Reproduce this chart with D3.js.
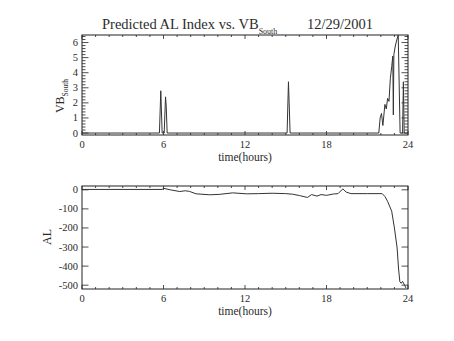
<!DOCTYPE html>
<html>
<head>
<meta charset="utf-8">
<script src="https://cdn.jsdelivr.net/npm/d3@7"></script>
<style>
  body { margin: 0; background: #fff; }
  svg { display: block; }
  text, tspan { font-family: "Liberation Serif", "DejaVu Serif", serif; fill: #2a2a2a; }
</style>
</head>
<body>
<svg id="chart" width="454" height="341"></svg>
<script>
// Southward IMF component (VB_South), hours UT
const vbHours  = [0, 5.70, 5.80, 5.90, 6.05, 6.15, 6.20, 6.27, 15.10, 15.20, 15.25, 15.32,
                  21.85, 21.95, 22.05, 22.15, 22.30, 22.40, 22.50, 22.60, 22.70, 22.80, 22.88,
                  22.92, 22.96, 23.05, 23.15, 23.28, 23.42, 23.60, 23.66, 23.72, 24];
const vbValues = [0, 0, 2.8, 0, 0, 2.4, 1.8, 0, 0, 3.4, 2.0, 0,
                  0, 1.0, 1.3, 0.5, 1.9, 1.6, 2.3, 2.1, 3.6, 4.4, 5.1,
                  1.2, 5.2, 5.7, 6.1, 6.5, 0, 0, 3.4, 0, 0];

// Predicted AL index (nT), hours UT
const alHours  = [0, 5.9, 6.0, 6.5, 7.2, 7.6, 7.9, 8.4, 9.4, 10.1, 11.1, 12.1, 13.0, 14.0, 15.0,
                  15.5, 16.0, 16.6, 16.9, 17.3, 17.6, 18.0, 18.5, 18.85, 19.2, 19.45, 19.8,
                  21.0, 22.1, 22.3, 22.5, 22.8, 23.0, 23.2, 23.3, 23.4, 23.5, 23.6, 23.75, 23.85];
const alValues = [2, 2, 8, 0, -9, -5, -8, -21, -26, -24, -16, -21, -20, -18, -20,
                  -23, -30, -40, -25, -33, -25, -29, -22, -20, 5, -12, -20,
                  -20, -20, -35, -61, -112, -200, -305, -410, -482, -490, -480, -500, -515];

const xTicks  = [0, 6, 12, 18, 24];
const vbTicks = [0, 1, 2, 3, 4, 5, 6];
const alTicks = [0, -100, -200, -300, -400, -500];

const svg = d3.select("#chart");
const ink = "#222";

const x = d3.scaleLinear().domain([0, 24]).range([82, 408]);
const yVB = d3.scaleLinear().domain([-0.13, 6.5]).range([135, 35]);
const yAL = d3.scaleLinear().domain([-520, 20]).range([289, 186]);

// values of the minor ticks lying between (and around) the major ticks
function minorValues(major, n, domain) {
  const step = major[1] - major[0];
  const lo = Math.min(domain[0], domain[1]), hi = Math.max(domain[0], domain[1]);
  const out = [];
  const start = Math.floor((lo - major[0]) / step) - 1;
  const end = Math.ceil((hi - major[0]) / step) + 1;
  for (let k = start; k <= end; k++) {
    for (let j = 1; j < n; j++) {
      const v = major[0] + (k + j / n) * step;
      if (v > lo && v < hi) out.push(v);
    }
  }
  return out;
}

function panel(y, yTicks, yMinorN, hours, values) {
  const g = svg.append("g");
  const [x0, x1] = x.range();
  const [yb, yt] = y.range();

  // frame
  g.append("rect").attr("x", x0).attr("y", yt).attr("width", x1 - x0).attr("height", yb - yt)
    .attr("fill", "none").attr("stroke", ink).attr("stroke-width", 1);

  // x ticks (bottom + top, pointing inward)
  const xMinor = minorValues(xTicks, 6, x.domain());
  const ticks = g.append("g").attr("stroke", ink).attr("stroke-width", 0.8);
  xTicks.forEach(v => {
    ticks.append("line").attr("x1", x(v)).attr("x2", x(v)).attr("y1", yb).attr("y2", yb - 4);
    ticks.append("line").attr("x1", x(v)).attr("x2", x(v)).attr("y1", yt).attr("y2", yt + 4);
  });
  xMinor.forEach(v => {
    ticks.append("line").attr("x1", x(v)).attr("x2", x(v)).attr("y1", yb).attr("y2", yb - 2);
    ticks.append("line").attr("x1", x(v)).attr("x2", x(v)).attr("y1", yt).attr("y2", yt + 2);
  });
  // y ticks (left + right, pointing inward)
  const yMinor = minorValues(yTicks, yMinorN, y.domain());
  yTicks.forEach(v => {
    ticks.append("line").attr("x1", x0).attr("x2", x0 + 6.5).attr("y1", y(v)).attr("y2", y(v));
    ticks.append("line").attr("x1", x1).attr("x2", x1 - 6.5).attr("y1", y(v)).attr("y2", y(v));
  });
  yMinor.forEach(v => {
    ticks.append("line").attr("x1", x0).attr("x2", x0 + 3.5).attr("y1", y(v)).attr("y2", y(v));
    ticks.append("line").attr("x1", x1).attr("x2", x1 - 3.5).attr("y1", y(v)).attr("y2", y(v));
  });

  // tick labels
  xTicks.forEach(v => {
    g.append("text").attr("x", x(v)).attr("y", yb + 13).attr("text-anchor", "middle")
      .attr("font-size", 10.5).text(v);
  });
  yTicks.forEach(v => {
    g.append("text").attr("x", x0 - 4).attr("y", y(v) + 3.5).attr("text-anchor", "end")
      .attr("font-size", 10.5).text(v);
  });
  g.append("text").attr("x", (x0 + x1) / 2).attr("y", yb + 26).attr("text-anchor", "middle")
    .attr("font-size", 11.5).text("time(hours)");

  // data line
  const line = d3.line().x((d, i) => x(hours[i])).y(d => y(d));
  g.append("path").datum(values).attr("d", line)
    .attr("fill", "none").attr("stroke", "#333").attr("stroke-width", 1)
    .attr("stroke-linejoin", "round");

  return g;
}

panel(yVB, vbTicks, 5, vbHours, vbValues);
panel(yAL, alTicks, 10, alHours, alValues);

// y axis titles
const vbLab = svg.append("text").attr("transform", "translate(64,96) rotate(-90)")
  .attr("text-anchor", "middle").attr("font-size", 12);
vbLab.append("tspan").text("VB");
vbLab.append("tspan").attr("dy", 4).attr("font-size", 7.5).text("South");

svg.append("text").attr("transform", "translate(51,237) rotate(-90)")
  .attr("text-anchor", "middle").attr("font-size", 12).text("AL");

// title (grayscale antialiasing via a composited group)
const titleGroup = svg.append("g").attr("opacity", 0.99);
const title = titleGroup.append("text").attr("y", 29).attr("font-size", 14.5);
title.append("tspan").attr("x", 102).text("Predicted AL Index vs. VB");
title.append("tspan").attr("dy", 5).attr("font-size", 8).text("South");
title.append("tspan").attr("x", 307).attr("dy", -5).text("12/29/2001");
</script>
</body>
</html>
